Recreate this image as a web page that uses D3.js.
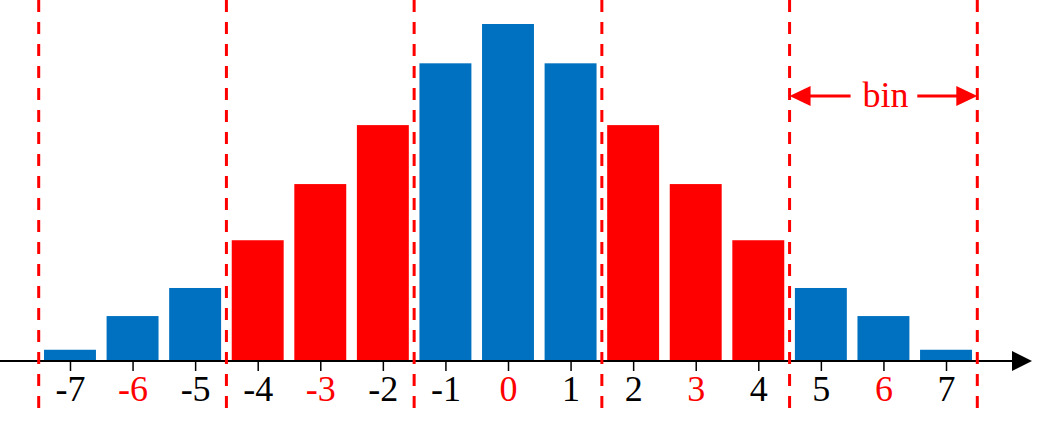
<!DOCTYPE html>
<html><head><meta charset="utf-8">
<script src="https://cdn.jsdelivr.net/npm/d3@7"></script>
<style>html,body{margin:0;padding:0;background:#fff;overflow:hidden}</style>
</head><body>
<svg id="c" width="1054" height="432"></svg>
<script>
const categories = [-7,-6,-5,-4,-3,-2,-1,0,1,2,3,4,5,6,7];
const values = [1,4,6.5,10.75,15.75,21,26.5,30,26.5,21,15.75,10.75,6.5,4,1];
const barGroup = ["blue","blue","blue","red","red","red","blue","blue","blue","red","red","red","blue","blue","blue"];
const labelColor = ["black","red","black","black","red","black","black","red","black","black","red","black","black","red","black"];
const binEdges = [-7.5,-4.5,-1.5,1.5,4.5,7.5];
const binLabel = "bin";

const colors = {blue:"#0070C0", red:"#FF0000", black:"#000"};
const svg = d3.select("#c");
const x = d3.scaleLinear().domain([-7.5,7.5]).range([38.7,977.3]);
const y = d3.scaleLinear().domain([0,30]).range([361,24]);
const step = x(1)-x(0);
const bw = step*0.83;

svg.append("g").selectAll("rect").data(categories).join("rect")
  .attr("x", d=>x(d)-bw/2).attr("width", bw)
  .attr("y", (d,i)=>y(values[i])).attr("height",(d,i)=>y(0)-y(values[i]))
  .attr("fill",(d,i)=>colors[barGroup[i]]);

// axis
const axis = d3.axisBottom(x).tickValues(categories).tickSize(10).tickPadding(6).tickFormat(d=>String(d));
const ag = svg.append("g").attr("transform",`translate(0,${y(0)})`).call(axis);
ag.select(".domain").remove();
ag.selectAll(".tick line").attr("stroke","#000").attr("stroke-width",1.5);
ag.selectAll(".tick text").attr("font-family","'Liberation Serif','Times New Roman',serif")
  .attr("font-size",36).attr("dy","0.68em")
  .attr("fill",(d,i)=>colors[labelColor[i]]);

svg.append("line").attr("x1",0).attr("x2",1014).attr("y1",y(0)).attr("y2",y(0))
  .attr("stroke","#000").attr("stroke-width",2);
svg.append("path").attr("d",`M1012,${y(0)-10}L1032,${y(0)}L1012,${y(0)+10}Z`).attr("fill","#000");

// dashed bin edges
svg.append("g").selectAll("line").data(binEdges).join("line")
  .attr("x1",d=>x(d)).attr("x2",d=>x(d)).attr("y1",0).attr("y2",412)
  .attr("stroke","#FF0000").attr("stroke-width",3).attr("stroke-dasharray","12,10");

// bin annotation
const bx0 = x(binEdges[4]), bx1 = x(binEdges[5]), by = 96;
const ann = svg.append("g");
ann.append("line").attr("x1",bx0+18).attr("x2",bx0+61).attr("y1",by).attr("y2",by).attr("stroke","#FF0000").attr("stroke-width",3);
ann.append("line").attr("x1",bx1-60).attr("x2",bx1-18).attr("y1",by).attr("y2",by).attr("stroke","#FF0000").attr("stroke-width",3);
ann.append("path").attr("d",`M${bx0},${by}L${bx0+21},${by-10}L${bx0+21},${by+10}Z`).attr("fill","#FF0000");
ann.append("path").attr("d",`M${bx1},${by}L${bx1-21},${by-10}L${bx1-21},${by+10}Z`).attr("fill","#FF0000");
ann.append("text").attr("x",(bx0+bx1)/2+2).attr("y",107).attr("text-anchor","middle")
  .attr("font-family","'Liberation Serif','Times New Roman',serif").attr("font-size",36)
  .attr("fill","#FF0000").text(binLabel);
</script>
</body></html>
